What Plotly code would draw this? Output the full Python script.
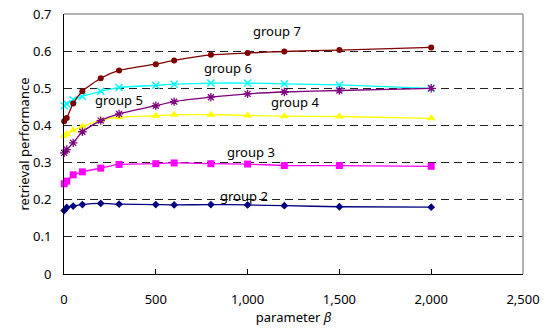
import plotly.graph_objects as go

beta = [1, 15, 50, 100, 200, 300, 500, 600, 800, 1000, 1200, 1500, 2000]

group2 = [0.171, 0.179, 0.183, 0.187, 0.190, 0.188, 0.187, 0.186, 0.187, 0.186, 0.184, 0.181, 0.180]
group3 = [0.243, 0.250, 0.267, 0.275, 0.285, 0.295, 0.297, 0.299, 0.297, 0.296, 0.292, 0.292, 0.290]
group4 = [0.326, 0.335, 0.353, 0.383, 0.413, 0.431, 0.453, 0.464, 0.476, 0.485, 0.490, 0.494, 0.500]
group5 = [0.372, 0.377, 0.387, 0.397, 0.414, 0.422, 0.426, 0.429, 0.429, 0.427, 0.425, 0.424, 0.419]
group6 = [0.453, 0.458, 0.469, 0.478, 0.492, 0.502, 0.508, 0.511, 0.514, 0.514, 0.512, 0.509, 0.500]
group7 = [0.411, 0.420, 0.459, 0.492, 0.527, 0.548, 0.565, 0.575, 0.590, 0.595, 0.599, 0.603, 0.610]

labels = ["group 2", "group 3", "group 4", "group 5", "group 6", "group 7"]
label_x = [980, 1016, 1258, 298, 893, 1160]
label_y = [0.211, 0.329, 0.463, 0.469, 0.555, 0.653]

series = [
    (group2, "#000080", dict(symbol="diamond", size=6, color="#000080")),
    (group3, "#FF00FF", dict(symbol="square", size=7, color="#FF00FF")),
    (group5, "#FFFF00", dict(symbol="triangle-up", size=8, color="#FFFF00")),
    (group6, "#00FFFF", dict(symbol="x-thin-open", size=7, color="#00FFFF", line=dict(color="#00FFFF", width=1.5))),
    (group4, "#800080", dict(symbol="asterisk-open", size=7, color="#800080", line=dict(color="#800080", width=1.3))),
    (group7, "#800000", dict(symbol="circle", size=6, color="#800000")),
]

fig = go.Figure()
for vals, col, mk in series:
    fig.add_trace(go.Scatter(x=beta, y=vals, mode="lines+markers",
                             line=dict(color=col, width=1.3, shape="spline", smoothing=0.6),
                             marker=mk, showlegend=False, cliponaxis=False))

font = dict(family="Noto Sans, Liberation Sans, sans-serif", size=13, color="#000000")

for t, x, y in zip(labels, label_x, label_y):
    fig.add_annotation(x=x, y=y, text=t, showarrow=False, font=font, xref="x", yref="y")

fig.update_layout(
    width=546, height=331,
    margin=dict(l=64, r=23, t=14, b=57),
    paper_bgcolor="white", plot_bgcolor="white",
    font=font,
    xaxis=dict(range=[0, 2500], tickvals=[0, 500, 1000, 1500, 2000, 2500],
               ticktext=["0", "500", "1,000", "1,500", "2,000", "2,500"],
               showgrid=False, zeroline=False, showline=True, linecolor="black", linewidth=1,
               ticks="inside", ticklen=5, tickcolor="black", ticklabelstandoff=13,
               automargin=False, ticklabeloverflow="allow",
               title=dict(text="parameter <i>β</i>", font=font, standoff=4)),
    yaxis=dict(range=[0, 0.7], tickvals=[0, 0.1, 0.2, 0.3, 0.4, 0.5, 0.6, 0.7],
               ticktext=["0", "0.1", "0.2", "0.3", "0.4", "0.5", "0.6", "0.7"],
               showgrid=True, gridcolor="#222222", gridwidth=1, griddash="8px,5px",
               zeroline=False, showline=True, linecolor="black", linewidth=1,
               ticks="", ticklabelstandoff=9, automargin=False, ticklabeloverflow="allow",
               title=dict(text="retrieval performance", font=font, standoff=0)),
)

fig.add_shape(type="line", xref="paper", yref="paper", x0=0, x1=1, y0=1, y1=1,
              line=dict(color="#999999", width=1.5), layer="below")
fig.add_shape(type="line", xref="paper", yref="paper", x0=1, x1=1, y0=0, y1=1,
              line=dict(color="#999999", width=1.5))

fig.write_html("out.html", config={"displayModeBar": False},
               post_script="document.body.style.margin='0';document.body.style.overflow='hidden';")
